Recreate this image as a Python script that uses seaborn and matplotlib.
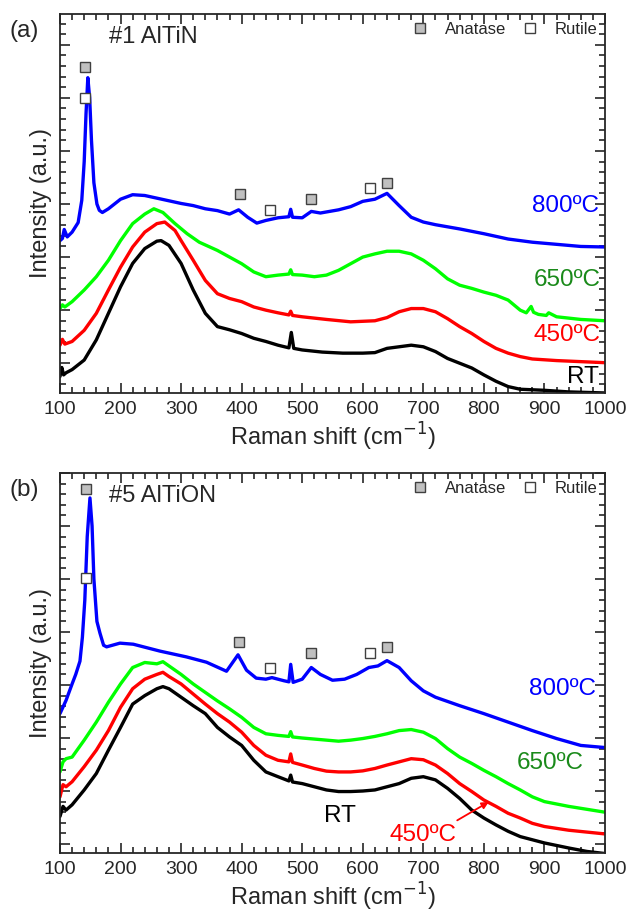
import numpy as np
import pandas as pd
import seaborn as sns
import matplotlib.pyplot as plt
from matplotlib.ticker import MultipleLocator
from matplotlib.lines import Line2D

# Panel (a): #1 AlTiN ##########################################################

a_rt_x = [100, 103, 106, 110, 120, 140, 160, 180, 200, 220, 240, 260, 267, 280, 300, 320, 340, 360, 380, 400,
          420, 440, 460, 478, 482, 486, 500, 533, 567, 600, 620, 640, 660, 680, 700, 720, 740, 760, 780, 800,
          820, 840, 860, 900, 940, 1000]
a_rt_y = [-0.25, -0.08, -0.22, -0.18, -0.12, 0.06, 0.44, 0.94, 1.44, 1.88, 2.16, 2.30, 2.31, 2.22, 1.88, 1.38, 0.94, 0.69, 0.63, 0.56,
          0.47, 0.41, 0.34, 0.29, 0.58, 0.28, 0.25, 0.21, 0.19, 0.19, 0.20, 0.28, 0.31, 0.34, 0.31, 0.22, 0.09, 0.0, -0.09, -0.22,
          -0.34, -0.44, -0.49, -0.51, -0.54, -0.56]

a_450_x = [100, 104, 108, 120, 140, 160, 180, 200, 220, 240, 260, 273, 290, 300, 320, 340, 360, 380, 400, 420,
           440, 460, 478, 481, 484, 500, 540, 580, 620, 640, 660, 680, 700, 720, 740, 760, 780, 800, 820, 840,
           860, 880, 920, 960, 1000]
a_450_y = [0.34, 0.45, 0.36, 0.41, 0.62, 0.94, 1.38, 1.81, 2.19, 2.47, 2.63, 2.66, 2.50, 2.31, 1.94, 1.56, 1.31, 1.22, 1.16, 1.06,
           1.00, 0.95, 0.91, 0.98, 0.90, 0.875, 0.825, 0.78, 0.80, 0.86, 0.97, 1.03, 1.03, 0.97, 0.84, 0.69, 0.56, 0.41, 0.28, 0.19,
           0.125, 0.08, 0.05, 0.03, 0.01]

a_650_x = [100, 104, 108, 120, 140, 160, 180, 200, 220, 240, 255, 270, 290, 310, 330, 360, 380, 400, 420, 440,
           460, 478, 481, 484, 500, 520, 540, 560, 580, 600, 620, 640, 660, 680, 700, 720, 740, 760, 780, 800,
           820, 840, 860, 870, 878, 882, 890, 903, 907, 920, 960, 1000]
a_650_y = [1.03, 1.10, 1.06, 1.16, 1.38, 1.63, 1.94, 2.31, 2.63, 2.81, 2.91, 2.84, 2.63, 2.44, 2.28, 2.125, 2.0, 1.875, 1.72, 1.63,
           1.66, 1.68, 1.76, 1.67, 1.66, 1.63, 1.66, 1.75, 1.875, 2.0, 2.06, 2.11, 2.11, 2.06, 1.94, 1.78, 1.59, 1.47, 1.41, 1.34,
           1.28, 1.19, 1.0, 0.95, 1.07, 0.96, 0.92, 0.90, 0.95, 0.875, 0.825, 0.80]

a_800_x = [100, 104, 107, 112, 120, 130, 136, 140, 143, 146, 149, 152, 156, 161, 165, 170, 180, 200, 220, 240,
           260, 280, 300, 320, 340, 360, 380, 395, 410, 425, 440, 460, 478, 481, 484, 500, 515, 530, 560, 580,
           600, 620, 640, 660, 680, 700, 720, 760, 800, 840, 880, 920, 960, 1000]
a_800_y = [2.31, 2.35, 2.52, 2.38, 2.47, 2.65, 3.07, 3.80, 4.70, 5.38, 5.00, 4.20, 3.40, 3.00, 2.88, 2.84, 2.91, 3.09, 3.175, 3.16,
           3.11, 3.06, 3.01, 2.97, 2.91, 2.875, 2.81, 2.89, 2.75, 2.64, 2.69, 2.74, 2.76, 2.90, 2.75, 2.74, 2.86, 2.83, 2.89, 2.95,
           3.05, 3.09, 3.20, 2.97, 2.75, 2.66, 2.61, 2.53, 2.44, 2.34, 2.28, 2.24, 2.20, 2.19]

a_anatase_x = [142, 397, 515, 640]
a_anatase_y = [5.58, 3.19, 3.09, 3.39]
a_rutile_x = [142, 447, 612]
a_rutile_y = [5.0, 2.89, 3.30]

# Panel (b): #5 AlTiON #########################################################

b_rt_x = [100, 105, 110, 120, 140, 160, 180, 200, 220, 240, 260, 270, 280, 300, 320, 340, 360, 380, 400, 420,
          440, 460, 478, 481, 484, 500, 520, 540, 560, 580, 600, 620, 640, 660, 680, 700, 720, 740, 760, 780,
          800, 820, 840, 860, 880, 900, 940, 970, 1000]
b_rt_y = [0.52, 0.71, 0.64, 0.74, 1.02, 1.33, 1.77, 2.20, 2.64, 2.80, 2.93, 2.97, 2.93, 2.77, 2.61, 2.46, 2.20, 2.02, 1.86, 1.58,
          1.36, 1.27, 1.19, 1.30, 1.17, 1.14, 1.08, 1.02, 0.99, 0.99, 1.00, 1.02, 1.08, 1.14, 1.24, 1.27, 1.21, 1.05, 0.86, 0.64,
          0.49, 0.36, 0.24, 0.14, 0.08, 0.02, -0.075, -0.14, -0.18]

b_450_x = [100, 105, 110, 120, 140, 160, 180, 200, 220, 240, 260, 270, 280, 300, 320, 340, 360, 380, 400, 420,
           440, 460, 478, 481, 484, 500, 520, 540, 560, 580, 600, 620, 640, 660, 680, 700, 720, 740, 760, 780,
           800, 820, 840, 860, 880, 900, 940, 1000]
b_450_y = [0.89, 1.12, 1.08, 1.175, 1.46, 1.77, 2.14, 2.58, 2.93, 3.11, 3.20, 3.24, 3.16, 3.02, 2.83, 2.64, 2.46, 2.30, 2.11, 1.86,
           1.675, 1.58, 1.55, 1.70, 1.54, 1.49, 1.425, 1.375, 1.36, 1.36, 1.38, 1.425, 1.49, 1.55, 1.61, 1.59, 1.49, 1.33, 1.14, 0.99,
           0.83, 0.71, 0.58, 0.49, 0.39, 0.33, 0.26, 0.19]

b_650_x = [100, 105, 110, 120, 140, 160, 180, 200, 220, 240, 260, 270, 280, 300, 320, 340, 360, 380, 400, 420,
           440, 460, 478, 481, 484, 500, 540, 560, 580, 600, 620, 640, 660, 680, 700, 720, 740, 760, 780, 800,
           820, 840, 860, 880, 900, 940, 1000]
b_650_y = [1.36, 1.55, 1.61, 1.64, 1.96, 2.30, 2.675, 3.02, 3.33, 3.425, 3.40, 3.44, 3.36, 3.20, 3.02, 2.86, 2.70, 2.55, 2.39, 2.20,
           2.08, 2.05, 2.03, 2.12, 2.02, 2.00, 1.96, 1.94, 1.96, 1.99, 2.03, 2.08, 2.14, 2.16, 2.11, 1.99, 1.80, 1.64, 1.52, 1.39,
           1.27, 1.14, 1.02, 0.89, 0.80, 0.71, 0.60]

b_800_x = [100, 110, 120, 126, 133, 137, 141, 145, 149.5, 153, 156, 161, 166, 172, 177, 199, 221, 265, 309, 342,
           375, 394, 408, 424, 440, 450, 470, 478, 481, 485, 500, 515, 530, 550, 570, 590, 610, 625, 640, 660,
           680, 700, 720, 760, 800, 840, 880, 920, 960, 1000]
b_800_y = [2.46, 2.71, 3.02, 3.20, 3.45, 3.90, 4.60, 5.80, 6.53, 6.00, 5.00, 4.20, 3.98, 3.75, 3.72, 3.79, 3.77, 3.64, 3.53, 3.43,
           3.26, 3.57, 3.28, 3.13, 3.11, 3.14, 3.08, 3.06, 3.39, 3.05, 3.11, 3.33, 3.20, 3.09, 3.11, 3.20, 3.33, 3.36, 3.46, 3.33,
           3.08, 2.89, 2.77, 2.61, 2.46, 2.30, 2.14, 1.99, 1.86, 1.82]

b_anatase_x = [143, 396, 514, 640]
b_anatase_y = [6.70, 3.81, 3.60, 3.72]
b_rutile_x = [143, 447, 612]
b_rutile_y = [5.02, 3.32, 3.60]

samples = ['RT', '450ºC', '650ºC', '800ºC']
line_colors = {'RT': 'black', '450ºC': '#ff0000', '650ºC': '#00ff00', '800ºC': '#0000ff'}
text_colors = {'RT': 'black', '450ºC': '#ff0000', '650ºC': '#1a8a1a', '800ºC': '#0000ff'}


def make_df(curves):
    parts = []
    for name, (xs, ys) in zip(samples, curves):
        parts.append(pd.DataFrame({'shift': xs, 'intensity': ys, 'sample': name}))
    return pd.concat(parts, ignore_index=True)


df_a = make_df([(a_rt_x, a_rt_y), (a_450_x, a_450_y), (a_650_x, a_650_y), (a_800_x, a_800_y)])
df_b = make_df([(b_rt_x, b_rt_y), (b_450_x, b_450_y), (b_650_x, b_650_y), (b_800_x, b_800_y)])

# Plot #########################################################################

sns.set_style('ticks')
plt.rcParams['font.family'] = ['Liberation Sans', 'DejaVu Sans']

fig = plt.figure(figsize=(6.32, 9.13), dpi=100)
ax_a = fig.add_axes([0.0949, 0.5696, 0.8624, 0.4151])
ax_b = fig.add_axes([0.0949, 0.0657, 0.8624, 0.4162])


def style_panel(ax, ylim, letter, title, anat, rut):
    xa, ya = anat
    xr, yr = rut
    ax.plot(xa, ya, ls='none', marker='s', ms=7.5, mfc='#c0c0c0', mec='#404040', mew=1.0, zorder=5)
    ax.plot(xr, yr, ls='none', marker='s', ms=7.5, mfc='white', mec='#404040', mew=1.0, zorder=5)

    ax.set_xlim(100, 1000)
    ax.set_ylim(*ylim)
    ax.xaxis.set_major_locator(MultipleLocator(100))
    ax.xaxis.set_minor_locator(MultipleLocator(20))
    ax.yaxis.set_major_locator(MultipleLocator(1))
    ax.yaxis.set_minor_locator(MultipleLocator(0.2))
    ax.tick_params(which='both', direction='in', top=True, right=True, width=1.2)
    ax.tick_params(which='major', length=7, labelsize=14, pad=6)
    ax.tick_params(which='minor', length=4)
    ax.set_yticklabels([])
    for sp in ax.spines.values():
        sp.set_linewidth(1.3)
    ax.set_xlabel('Raman shift (cm$^{-1}$)', fontsize=17, labelpad=2)
    ax.set_ylabel('Intensity (a.u.)', fontsize=17, labelpad=0)

    ax.text(-0.092, 0.955, letter, transform=ax.transAxes, fontsize=17.5, va='center', ha='left')
    ax.text(0.09, 0.94, title, transform=ax.transAxes, fontsize=17, va='center', ha='left')

    handles = [Line2D([], [], ls='none', marker='s', ms=7.5, mfc='#c0c0c0', mec='#404040', mew=1.0),
               Line2D([], [], ls='none', marker='s', ms=7.5, mfc='white', mec='#404040', mew=1.0)]
    ax.legend(handles, ['Anatase', 'Rutile'], ncol=2, loc='upper right', bbox_to_anchor=(1.005, 1.005),
              frameon=False, fontsize=12, handlelength=1.0, handletextpad=1.0, columnspacing=0.9,
              borderaxespad=0.2)


for ax, df in [(ax_a, df_a), (ax_b, df_b)]:
    sns.lineplot(data=df, x='shift', y='intensity', hue='sample', palette=line_colors,
                 hue_order=samples, estimator=None, sort=True, linewidth=2.4, legend=False, ax=ax)

style_panel(ax_a, (-0.56, 6.58), '(a)', '#1 AlTiN', (a_anatase_x, a_anatase_y), (a_rutile_x, a_rutile_y))
style_panel(ax_b, (-0.17, 7.0), '(b)', '#5 AlTiON', (b_anatase_x, b_anatase_y), (b_rutile_x, b_rutile_y))

# curve labels
lab_a = {'800ºC': (990, 2.97), '650ºC': (993, 1.56), '450ºC': (993, 0.53), 'RT': (990, -0.25)}
for name, (x, y) in lab_a.items():
    ax_a.text(x, y, name, color=text_colors[name], fontsize=17.5, ha='right', va='center')

lab_b = {'800ºC': (985, 2.93), '650ºC': (965, 1.52)}
for name, (x, y) in lab_b.items():
    ax_b.text(x, y, name, color=text_colors[name], fontsize=17.5, ha='right', va='center')
ax_b.text(563, 0.52, 'RT', color='black', fontsize=17.5, ha='center', va='center')
ax_b.text(700, 0.17, '450ºC', color='#ff0000', fontsize=17.5, ha='center', va='center')
ax_b.annotate('', xy=(812, 0.82), xytext=(752, 0.42),
              arrowprops=dict(arrowstyle='-|>', color='#ff0000', lw=1.3, mutation_scale=10))

fig.savefig('out.png', dpi=100)
